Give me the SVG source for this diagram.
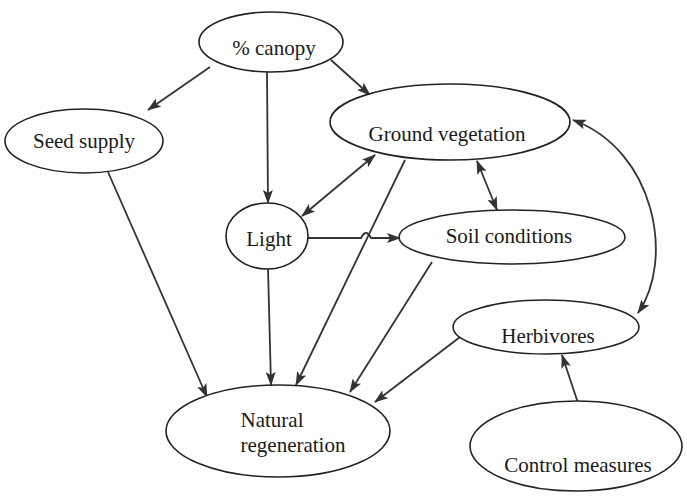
<svg xmlns="http://www.w3.org/2000/svg" width="687" height="497" viewBox="0 0 687 497">
<style>
.node ellipse{fill:#fff;stroke:#222;stroke-width:1.6}
.node text{font-family:"Liberation Serif","Times New Roman",serif;font-size:21px;fill:#1a1a1a;text-anchor:middle}
.edges path{fill:none;stroke:#333;stroke-width:1.8}
</style>
<defs>
<marker id="ah" viewBox="0 0 14 10" refX="13" refY="5" markerWidth="14" markerHeight="10" markerUnits="userSpaceOnUse" orient="auto-start-reverse">
<path d="M0,0 L14,5 L0,10 L3,5 z" fill="#333"/>
</marker>
</defs>
<rect width="687" height="497" fill="#fff"/>
<g class="edges">
<path d="M210,67 L148,110" marker-end="url(#ah)"/>
<path d="M267,72 L268,203" marker-end="url(#ah)"/>
<path d="M331,60 L370,95" marker-end="url(#ah)"/>
<path d="M108,172 L207,397" marker-end="url(#ah)"/>
<path d="M268,268 L271,385" marker-end="url(#ah)"/>
<path d="M375,155 L302,216" marker-start="url(#ah)" marker-end="url(#ah)"/>
<path d="M405,160 L296,385" marker-end="url(#ah)"/>
<path d="M477,161 L497,210" marker-start="url(#ah)" marker-end="url(#ah)"/>
<path d="M308,238 H361 Q366,228 371,238 H400" marker-end="url(#ah)"/>
<path d="M432,262 L350,392" marker-end="url(#ah)"/>
<path d="M460,337 L375,402" marker-end="url(#ah)"/>
<path d="M573,120 C655,150 675,260 638,313" marker-start="url(#ah)" marker-end="url(#ah)"/>
<path d="M578,403 L562,355" marker-end="url(#ah)"/>
</g>
<g id="canopy" class="node"><ellipse cx="271" cy="42" rx="72" ry="30"/><text x="274" y="55">% canopy</text></g>
<g id="seed" class="node"><ellipse cx="84" cy="141" rx="79" ry="32"/><text x="84" y="148">Seed supply</text></g>
<g id="ground" class="node"><ellipse cx="450" cy="122" rx="120" ry="38"/><text x="447" y="141">Ground vegetation</text></g>
<g id="light" class="node"><ellipse cx="267" cy="236" rx="41" ry="33"/><text x="269" y="246">Light</text></g>
<g id="soil" class="node"><ellipse cx="512" cy="237" rx="113" ry="27"/><text x="509" y="243">Soil conditions</text></g>
<g id="herbivores" class="node"><ellipse cx="546" cy="327" rx="93" ry="27"/><text x="548" y="343">Herbivores</text></g>
<g id="control" class="node"><ellipse cx="576" cy="446" rx="106" ry="45"/><text x="578" y="472">Control measures</text></g>
<g id="natural" class="node"><ellipse cx="278" cy="431" rx="112" ry="46"/><text x="272" y="427">Natural</text><text x="293" y="452">regeneration</text></g>
</svg>
